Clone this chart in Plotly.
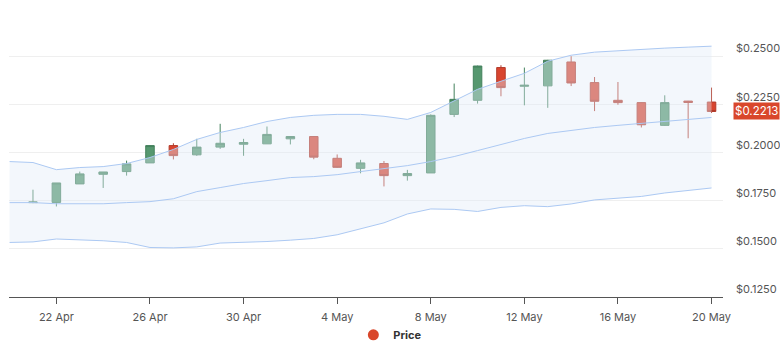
import plotly.graph_objects as go
import pandas as pd

# Daily OHLC candles, 21 Apr - 20 May
dates = pd.date_range("2024-04-21", "2024-05-20", freq="D")
open_ = [0.1740, 0.1741, 0.1837, 0.1887, 0.1901, 0.1946, 0.2036, 0.1988, 0.2028, 0.2043,
         0.2045, 0.2071, 0.2083, 0.1970, 0.1918, 0.1943, 0.1880, 0.1894, 0.2198, 0.2271,
         0.2441, 0.2344, 0.2346, 0.2470, 0.2363, 0.2271, 0.2259, 0.2141, 0.2267, 0.2262]
high = [0.1807, 0.1842, 0.1901, 0.1899, 0.1958, 0.2038, 0.2048, 0.2071, 0.2149, 0.2071,
        0.2135, 0.2085, 0.2085, 0.1990, 0.1962, 0.1956, 0.1910, 0.2198, 0.2358, 0.2451,
        0.2453, 0.2441, 0.2481, 0.2500, 0.2392, 0.2366, 0.2261, 0.2297, 0.2268, 0.2337]
low = [0.1737, 0.1720, 0.1837, 0.1816, 0.1880, 0.1946, 0.1964, 0.1983, 0.2019, 0.1983,
       0.2045, 0.2042, 0.1965, 0.1920, 0.1892, 0.1824, 0.1854, 0.1894, 0.2184, 0.2254,
       0.2292, 0.2245, 0.2232, 0.2345, 0.2215, 0.2248, 0.2130, 0.2139, 0.2074, 0.2205]
close = [0.1743, 0.1842, 0.1889, 0.1899, 0.1941, 0.2036, 0.1984, 0.2028, 0.2048, 0.2052,
         0.2094, 0.2083, 0.1976, 0.1923, 0.1946, 0.1880, 0.1891, 0.2193, 0.2276, 0.2449,
         0.2337, 0.2349, 0.2479, 0.2361, 0.2266, 0.2259, 0.2144, 0.2259, 0.2260, 0.2213]

# Bollinger bands, 20 Apr - 20 May
band_dates = pd.date_range("2024-04-20", "2024-05-20", freq="D")
band_upper = [0.1953, 0.1948, 0.1911, 0.1922, 0.1927, 0.1943, 0.1974, 0.2016, 0.2068, 0.2104,
              0.2130, 0.2161, 0.2182, 0.2193, 0.2198, 0.2198, 0.2188, 0.2172, 0.2208, 0.2266,
              0.2328, 0.2370, 0.2411, 0.2474, 0.2505, 0.2521, 0.2529, 0.2536, 0.2542, 0.2547,
              0.2552]
band_middle = [0.1740, 0.1740, 0.1734, 0.1734, 0.1734, 0.1740, 0.1745, 0.1760, 0.1797, 0.1818,
               0.1839, 0.1854, 0.1870, 0.1875, 0.1885, 0.1901, 0.1917, 0.1932, 0.1953, 0.1979,
               0.2010, 0.2042, 0.2073, 0.2099, 0.2115, 0.2130, 0.2141, 0.2151, 0.2161, 0.2172,
               0.2182]
band_lower = [0.1533, 0.1536, 0.1551, 0.1547, 0.1542, 0.1533, 0.1507, 0.1505, 0.1510, 0.1530,
              0.1533, 0.1538, 0.1545, 0.1554, 0.1573, 0.1603, 0.1635, 0.1681, 0.1707, 0.1705,
              0.1694, 0.1715, 0.1724, 0.1719, 0.1733, 0.1754, 0.1764, 0.1772, 0.1790, 0.1802,
              0.1816]

price_ticks = [0.125, 0.150, 0.175, 0.200, 0.225, 0.250]
date_ticks = pd.date_range("2024-04-22", "2024-05-20", freq="4D")
last_price = close[-1]

UP = "#56986f"
UP_LINE = "#44825d"
DOWN = "#d8452f"
DOWN_LINE = "#b23a2a"
BAND_LINE = "#acc9f3"
FONT = "Inter"

fig = go.Figure()

fig.add_trace(go.Candlestick(
    x=dates, open=open_, high=high, low=low, close=close,
    increasing=dict(fillcolor=UP, line=dict(color=UP_LINE, width=1)),
    decreasing=dict(fillcolor=DOWN, line=dict(color=DOWN_LINE, width=1)),
    whiskerwidth=0, showlegend=False, hoverinfo="skip",
))

# band area washes over the candles beneath it
fig.add_trace(go.Scatter(
    x=band_dates, y=band_upper, mode="lines",
    line=dict(color=BAND_LINE, width=1), showlegend=False, hoverinfo="skip",
))
fig.add_trace(go.Scatter(
    x=band_dates, y=band_lower, mode="lines", fill="tonexty",
    fillcolor="rgba(224,235,247,0.4)",
    line=dict(color=BAND_LINE, width=1), showlegend=False, hoverinfo="skip",
))
fig.add_trace(go.Scatter(
    x=band_dates, y=band_middle, mode="lines",
    line=dict(color=BAND_LINE, width=1), showlegend=False, hoverinfo="skip",
))

# legend entry
fig.add_trace(go.Scatter(
    x=[None], y=[None], mode="markers", name="Price",
    marker=dict(color="#d9472b", size=11, symbol="circle"),
))

fig.add_annotation(
    xref="paper", yref="y", x=1, y=last_price, xanchor="left", yanchor="middle",
    xshift=10, text=f"${last_price:.4f}", showarrow=False,
    font=dict(family=FONT, size=11.5, color="white"),
    bgcolor="#d9472b", borderpad=1,
)

fig.update_layout(
    width=780, height=342,
    margin=dict(l=9, r=57, t=9, b=45, autoexpand=False),
    paper_bgcolor="white", plot_bgcolor="white",
    font=dict(family=FONT, size=11, color="#555555"),
    boxgap=0.48,
    showlegend=True,
    legend=dict(
        orientation="h", xref="container", yref="container",
        x=0.453, xanchor="left", y=0.021, yanchor="middle",
        font=dict(family=FONT, size=11, color="#333333", weight="bold"),
        itemwidth=30, bgcolor="rgba(0,0,0,0)",
    ),
    xaxis=dict(
        type="date", range=["2024-04-19 23:24", "2024-05-20 11:45"],
        rangeslider=dict(visible=False), automargin=False,
        tickvals=list(date_ticks), ticktext=[d.strftime("%-d %b") for d in date_ticks],
        showgrid=False, zeroline=False,
        showline=True, linecolor="#555555", linewidth=1,
        ticks="outside", ticklen=6, tickcolor="#555555", ticklabelstandoff=4,
        tickfont=dict(family=FONT, size=11, color="#555555"),
    ),
    yaxis=dict(
        side="right", range=[0.125, 0.2745], automargin=False,
        tickvals=price_ticks, ticktext=[f"${v:.4f}" for v in price_ticks],
        showgrid=True, gridcolor="#efefef", gridwidth=1, zeroline=False,
        showline=False, ticks="", ticklabelstandoff=12,
        ticklabelposition="outside top",
        tickfont=dict(family=FONT, size=11, color="#555555"),
    ),
)

fig.write_html("out.html")
